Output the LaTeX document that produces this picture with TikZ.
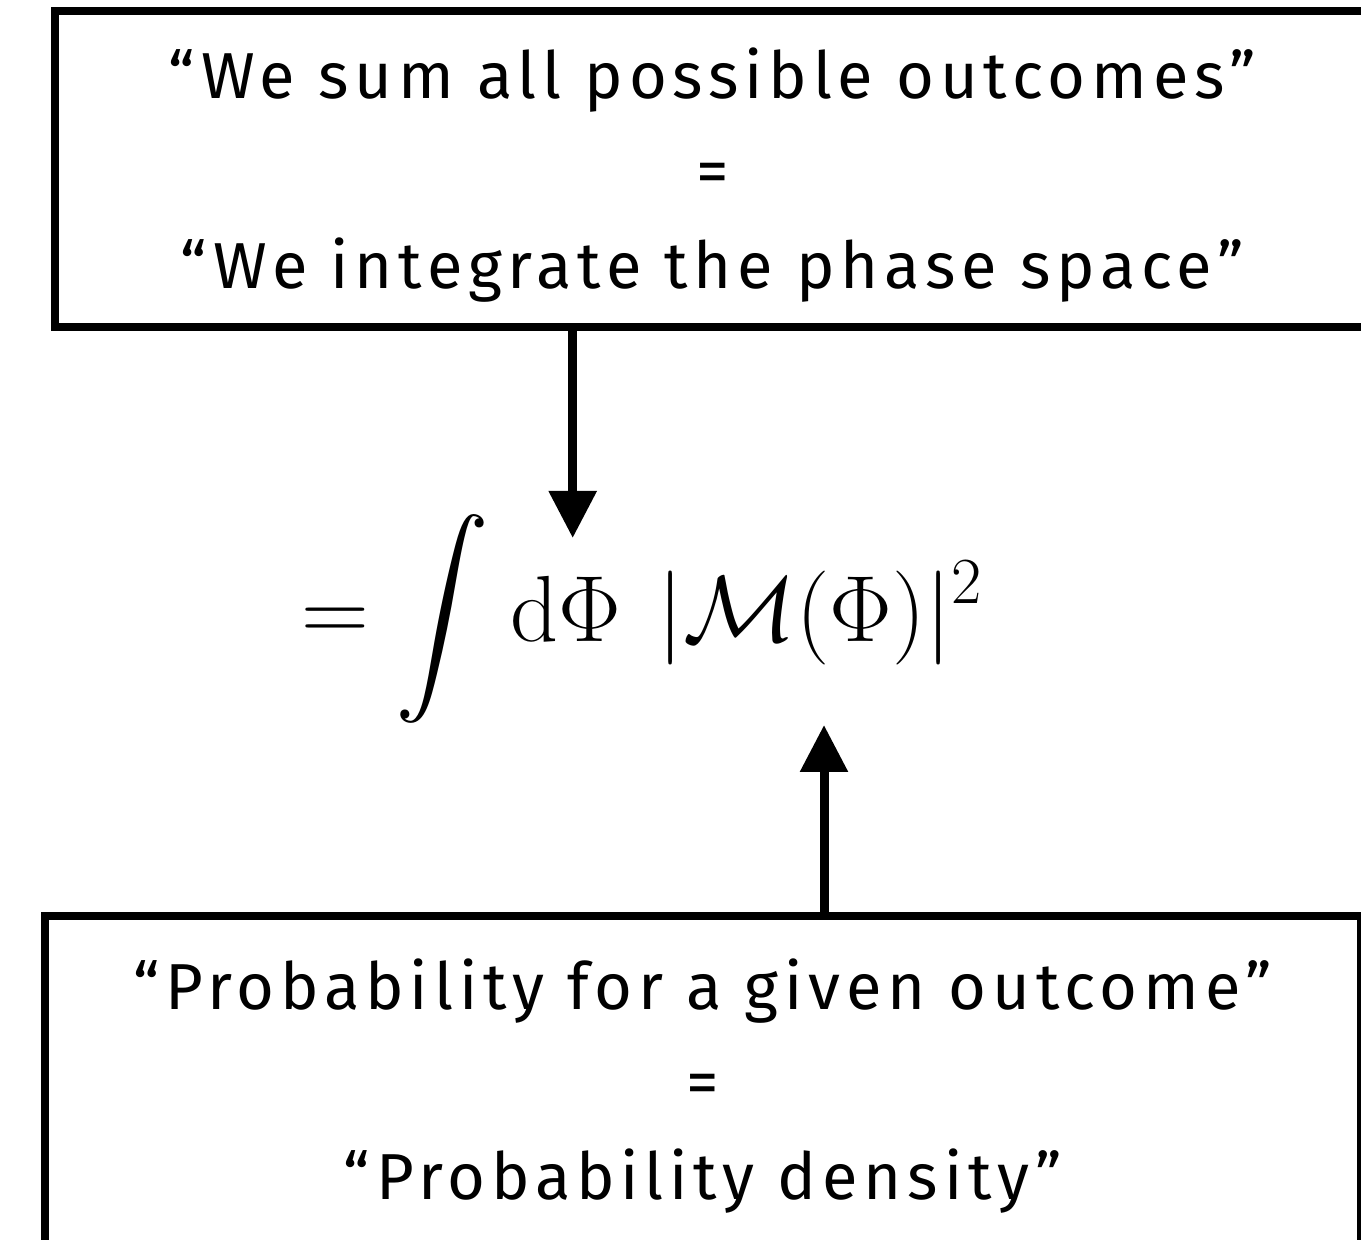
\RequirePackage{fix-cm}
\documentclass[tikz,border=0pt]{standalone}
\DeclareFontFamily{OMX}{cmex}{}
\DeclareFontShape{OMX}{cmex}{m}{n}{<-> cmex10}{}
\usepackage[no-math]{fontspec}
\setmainfont{Fira Sans}[LetterSpace=9]
\usetikzlibrary{arrows.meta}
\tikzset{
  box/.style={draw, line width=4pt, rectangle, align=center, inner sep=0pt,
    font=\fontsize{32.5}{47.5}\selectfont},
  conn/.style={line width=4.5pt, -{Triangle[width=23pt,length=23.5pt]}},
}
\begin{document}
\begin{tikzpicture}[x=0.5pt,y=-0.5pt]
\useasboundingbox (0,0) rectangle (1361,1240);
\clip (0,0) rectangle (1361,1240);
\node[box, minimum width=657.5pt, minimum height=158pt] (top) at (712.5,169)
  {\raisebox{-3pt}[\height][\depth]{\begin{tabular}{@{}c@{}}“We sum all possible outcomes”\\=\\“We integrate the phase space”\end{tabular}}};
\node[box, minimum width=658.25pt, minimum height=166pt] (bot) at (702.75,1082)
  {\raisebox{-1.5pt}[\height][\depth]{\begin{tabular}{@{}c@{}}“Probability for a given outcome”\\=\\“Probability density”\end{tabular}}};
\node[inner sep=0pt, anchor=base west, font=\fontsize{47}{56}\selectfont] (eq) at (301,642)
  {$\displaystyle = \int\mkern1mu \mathrm{d}\Phi\mkern7mu |\mathcal{M}(\Phi)|^2$};
\coordinate (t1) at (572.7,538);
\coordinate (t2) at (824,725);
\draw[conn] (top.south -| t1) -- (t1);
\draw[conn] (bot.north -| t2) -- (t2);
\end{tikzpicture}
\end{document}
